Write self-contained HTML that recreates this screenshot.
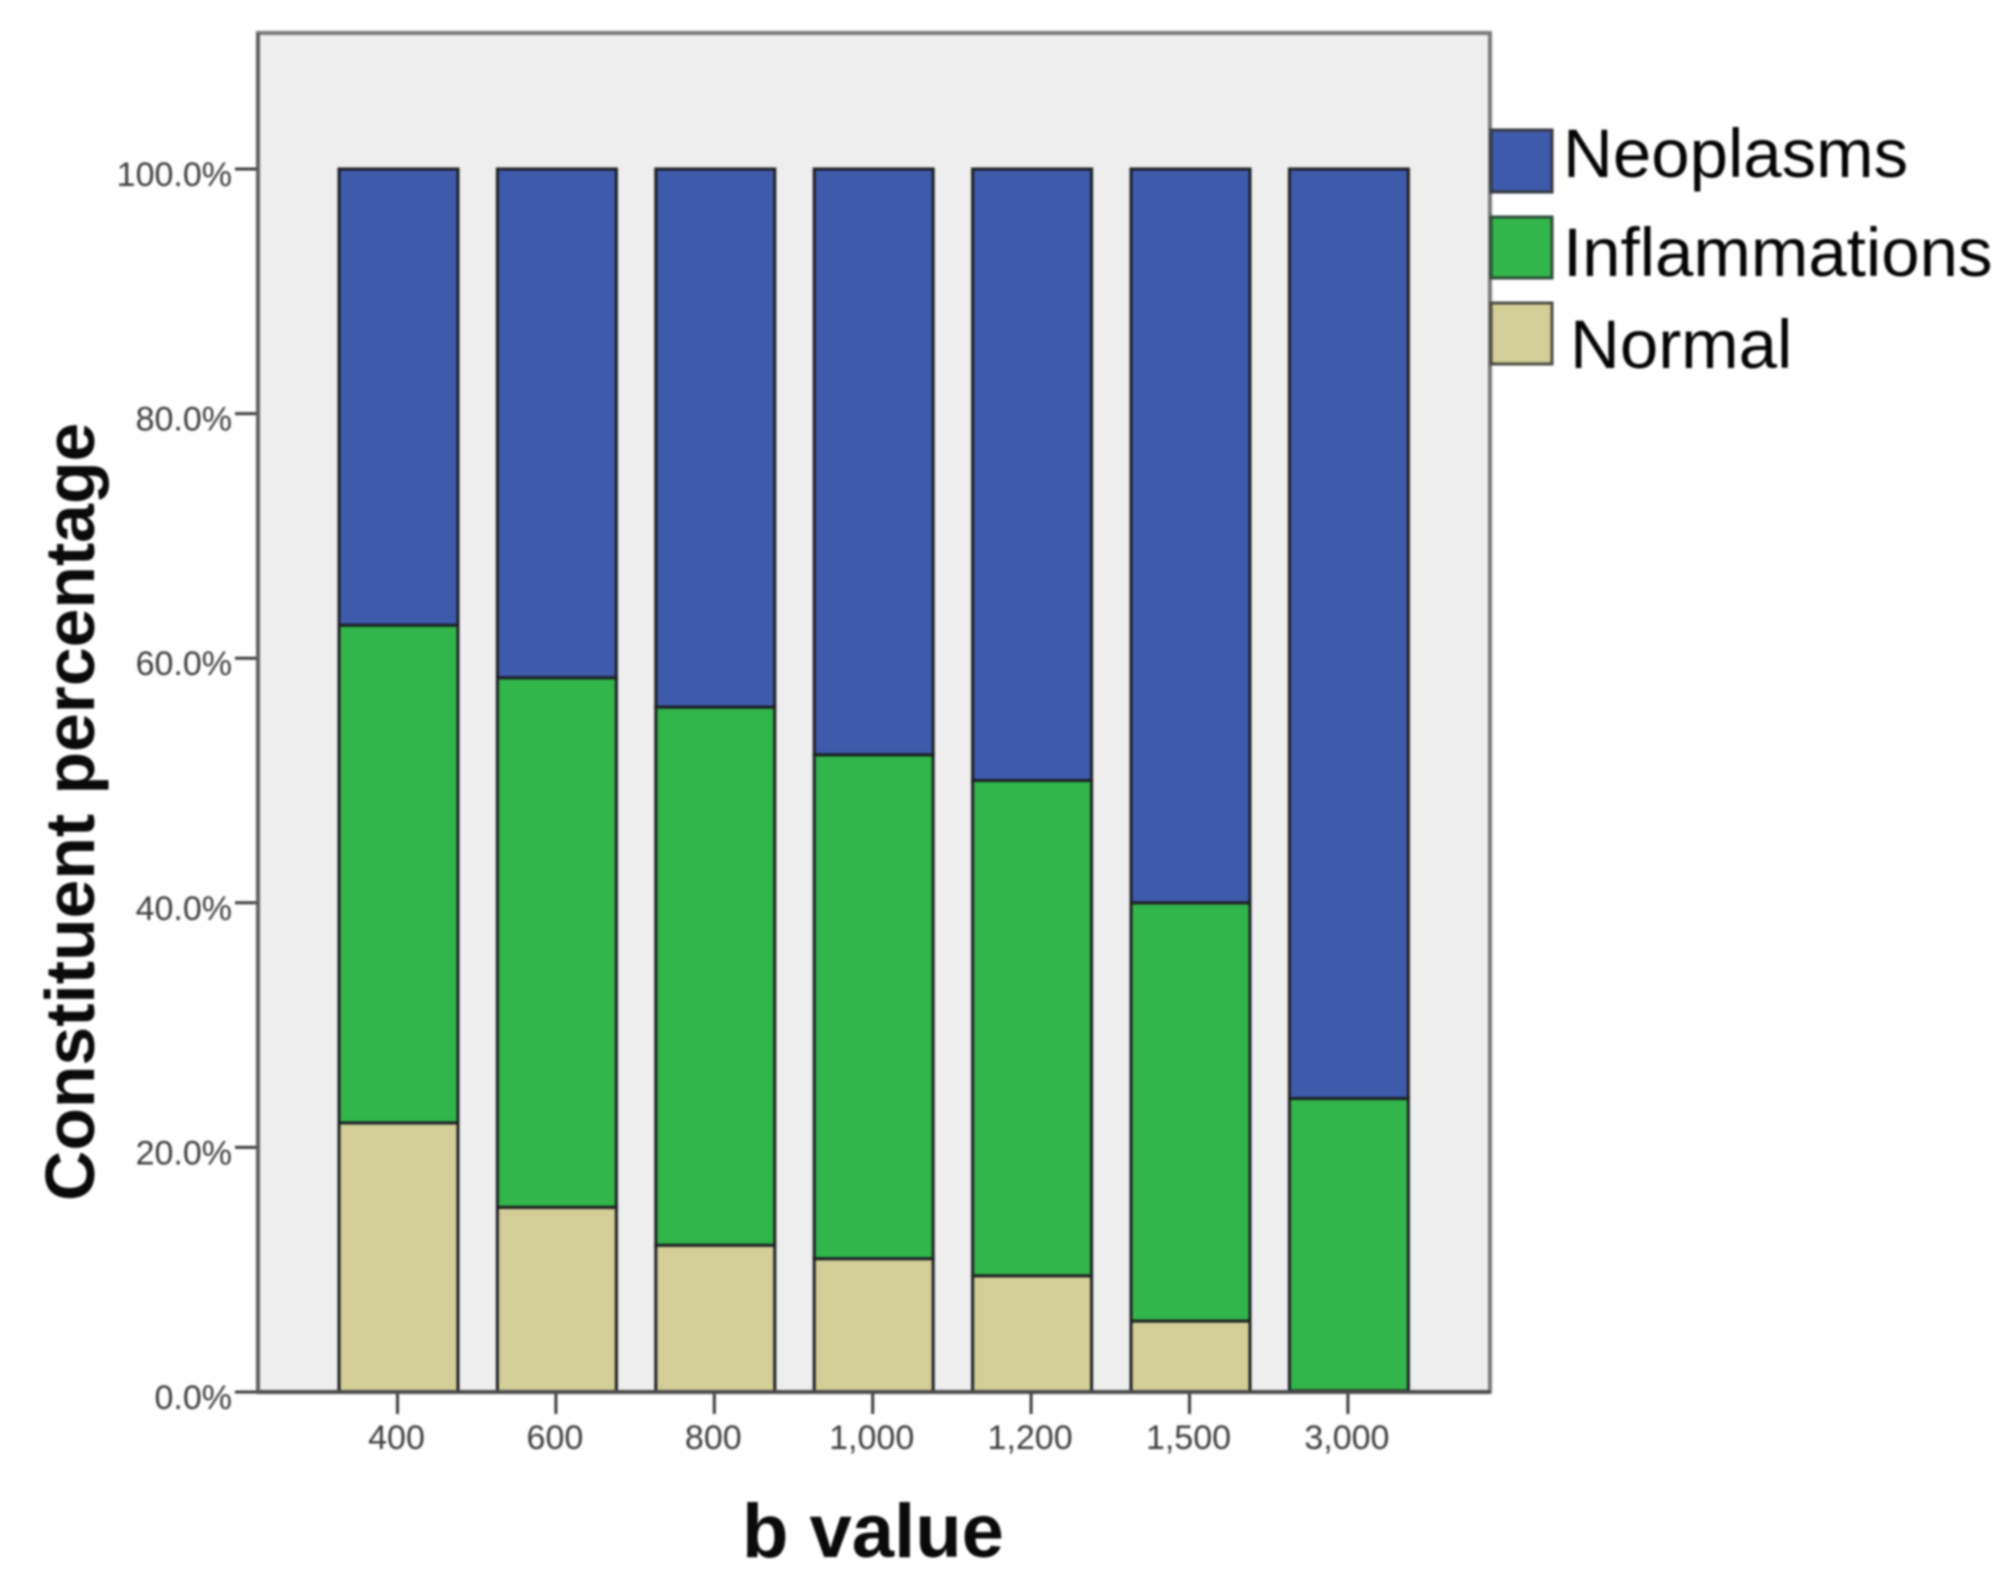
<!DOCTYPE html>
<html>
<head>
<meta charset="utf-8">
<title>Constituent percentage by b value</title>
<style>
html,body{margin:0;padding:0;background:#fff;}
svg{display:block;filter:blur(1.1px);}
text{font-family:"Liberation Sans",sans-serif;}
</style>
</head>
<body>
<svg id="chart" xmlns="http://www.w3.org/2000/svg" width="2008" height="1593" viewBox="0 0 2008 1593">
  <rect x="0" y="0" width="2008" height="1593" fill="#ffffff"/>
  <rect x="258" y="33" width="1232" height="1359" fill="#eeeeee" stroke="#7a7a7a" stroke-width="4"/>
  <g id="bars"></g>
  <g id="axes"></g>
  <line x1="258" y1="1392" x2="1490" y2="1392" stroke="#4a4a4a" stroke-width="4"/>
  <line x1="258" y1="33" x2="258" y2="1392" stroke="#5e5e5e" stroke-width="4"/>
  <text transform="translate(94,1201) rotate(-90)" font-size="69.7" font-weight="bold" fill="#0a0a0a">Constituent percentage</text>
  <text x="742" y="1557" font-size="76" font-weight="bold" fill="#0a0a0a">b value</text>
  <g id="legend">
    <g>
      <rect x="1491" y="130" width="61" height="62" fill="#3e5aaa" stroke="#33383f" stroke-width="3"/>
      <text x="1563" y="177" font-size="69" fill="#050505">Neoplasms</text>
    </g>
    <g>
      <rect x="1491" y="217" width="61" height="61" fill="#32b54b" stroke="#2c4a36" stroke-width="3"/>
      <text x="1563" y="276" font-size="69" fill="#050505">Inflammations</text>
    </g>
    <g>
      <rect x="1491" y="303" width="61" height="61" fill="#d3ce97" stroke="#4a4a40" stroke-width="3"/>
      <text x="1570" y="368" font-size="69" fill="#050505">Normal</text>
    </g>
  </g>
</svg>
<script>
const categories = ["400", "600", "800", "1,000", "1,200", "1,500", "3,000"];
const normalValues = [22.0, 15.1, 12.0, 10.9, 9.5, 5.8, 0.1];
const inflammationValues = [40.7, 43.3, 44.0, 41.2, 40.5, 34.2, 23.9];
const neoplasmValues = [37.3, 41.6, 44.0, 47.9, 50.0, 60.0, 76.0];
const yTickValues = [0, 20, 40, 60, 80, 100];
const yTickLabels = ["0.0%", "20.0%", "40.0%", "60.0%", "80.0%", "100.0%"];

const SVG_NS = "http://www.w3.org/2000/svg";
const plot = { left: 398.5, step: 158.4, barWidth: 119, baseY: 1392, topY: 169 };

function yScale(v) {
  return plot.baseY - (v / 100) * (plot.baseY - plot.topY);
}
function xScale(i) {
  return plot.left + i * plot.step;
}
function make(tag, props) {
  const el = document.createElementNS(SVG_NS, tag);
  Object.keys(props).forEach(function (k) { el.setAttribute(k, props[k]); });
  return el;
}

const barsGroup = document.getElementById("bars");
const axesGroup = document.getElementById("axes");
const stackOrder = [
  { key: "normal", values: normalValues, fill: "#d3ce97" },
  { key: "inflammations", values: inflammationValues, fill: "#32b54b" },
  { key: "neoplasms", values: neoplasmValues, fill: "#3e5aaa" }
];

categories.forEach(function (cat, i) {
  let cumulative = 0;
  stackOrder.forEach(function (series) {
    const v = series.values[i];
    const y0 = yScale(cumulative);
    const y1 = yScale(cumulative + v);
    const rect = make("rect", {
      x: xScale(i) - plot.barWidth / 2,
      y: y1,
      width: plot.barWidth,
      height: Math.max(y0 - y1, 0),
      fill: series.fill,
      stroke: "#1c1e22",
      "stroke-width": 3
    });
    
    
    barsGroup.appendChild(rect);
    cumulative += v;
  });

  const tick = make("line", {
    x1: xScale(i) - 1, x2: xScale(i) - 1, y1: plot.baseY, y2: plot.baseY + 22,
    stroke: "#3c3c3c", "stroke-width": 3
  });
  
  
  axesGroup.appendChild(tick);

  const label = make("text", {
    x: xScale(i) - 2, y: 1449, "text-anchor": "middle", "font-size": 34, fill: "#3c3c3c"
  });
  
  
  label.textContent = cat;
  axesGroup.appendChild(label);
});

yTickValues.forEach(function (v, i) {
  const y = yScale(v);
  const tick = make("line", {
    x1: 235, x2: 258, y1: y, y2: y, stroke: "#3c3c3c", "stroke-width": 3
  });
  
  
  axesGroup.appendChild(tick);

  const label = make("text", {
    x: 232, y: y + 17, "text-anchor": "end", "font-size": 34, fill: "#3c3c3c"
  });
  
  
  label.textContent = yTickLabels[i];
  axesGroup.appendChild(label);
});
</script>
</body>
</html>
